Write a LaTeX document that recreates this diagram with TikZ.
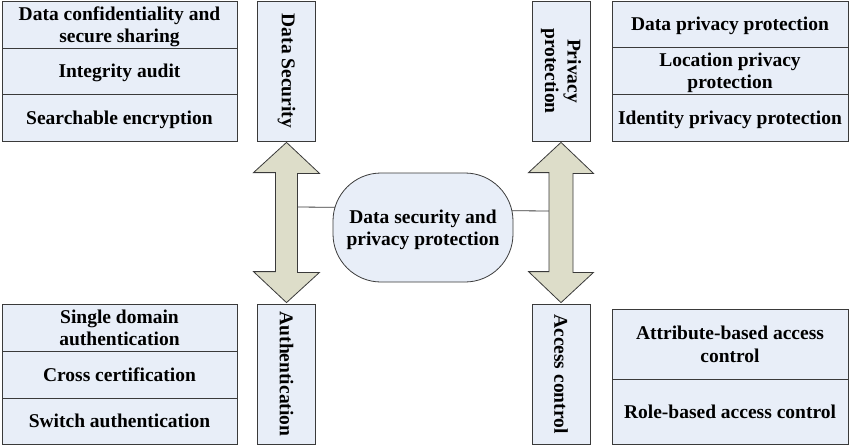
\documentclass[tikz,border=0pt]{standalone}
\usepackage{fontspec}
\setmainfont{Liberation Serif}
\usetikzlibrary{calc}
\definecolor{boxfill}{HTML}{E8EEF8}
\definecolor{arrfill}{HTML}{DDDDC9}
\definecolor{edgec}{HTML}{3A3A3A}
\begin{document}
\begin{tikzpicture}[x=1pt,y=-1pt,
  txt/.style={font=\fontsize{19.5}{22.5}\selectfont\bfseries, align=center, text=black},
  cell/.style={txt, text depth=0pt, draw=edgec, fill=boxfill, line width=0.8pt, minimum width=235pt, inner sep=0pt},
  vbox/.style={txt, draw=edgec, fill=boxfill, line width=0.8pt, minimum width=140pt, minimum height=58pt, inner sep=0pt, rotate=-90},
  dblarrow/.style={draw=edgec, fill=arrfill, line width=0.8pt, line join=miter},
  link/.style={draw=edgec, line width=0.8pt},
  core/.style={txt, text depth=0pt, draw=edgec, fill=boxfill, line width=0.8pt, minimum width=180pt, minimum height=109pt, rounded corners=48pt, inner sep=0pt}]
\useasboundingbox (0,0) rectangle (850,445);

% top-left group
\node[cell, minimum height=47pt] (a1) at (119.5,24.5) {Data confidentiality and\\secure sharing};
\node[cell, minimum height=46pt] (a2) at (119.5,71) {Integrity audit};
\node[cell, minimum height=47pt] (a3) at (119.5,117.5) {Searchable encryption};
\node[vbox] (ds) at (286.5,71) {Data Security};

% top-right group
\node[vbox] (pp) at (561,71) {Privacy\\protection};
\node[cell, minimum width=236pt, minimum height=46pt] (b1) at (730,24) {Data privacy protection};
\node[cell, minimum width=236pt, minimum height=47pt] (b2) at (730,70.5) {Location privacy\\protection};
\node[cell, minimum width=236pt, minimum height=47pt] (b3) at (730,117.5) {Identity privacy protection};

% bottom-left group
\node[cell, minimum height=47pt] (c1) at (119.5,327.5) {Single domain\\authentication};
\node[cell, minimum height=47pt] (c2) at (119.5,374.5) {Cross certification};
\node[cell, minimum height=46pt] (c3) at (119.5,421) {Switch authentication};
\node[vbox] (au) at (286.5,374) {Authentication};

% bottom-right group
\node[vbox] (ac) at (561,374) {Access control};
\node[cell, minimum width=236pt, minimum height=70pt] (d1) at (730,344) {Attribute-based access\\control};
\node[cell, minimum width=236pt, minimum height=65pt] (d2) at (730,411.5) {Role-based access control};

% connectors from arrow shafts to the core
\coordinate (ls) at (297,207);
\coordinate (rs) at (549,211);
\draw[link] (ls) -- ($(ls)!0.5!(423,208)$) -- (423,208);
\draw[link] (rs) -- (423,210);

% double arrows
\coordinate (lt) at ($(ds.east)+(0,1)$);
\coordinate (lb) at ($(au.west)+(0,-1)$);
\draw[dblarrow] (lt) -- ++(33,31) -- ++(-22,0) -- ++(0,99) -- ++(22,0) -- (lb)
  -- ++(-33,-31) -- ++(22,0) -- ++(0,-99) -- ++(-22,0) -- cycle;
\coordinate (rt) at ($(pp.east)+(0,1)$);
\coordinate (rb) at ($(ac.west)+(0,-1)$);
\draw[dblarrow] (rt) -- ++(32.5,31) -- ++(-20.5,0) -- ++(0,99) -- ++(20.5,0) -- (rb)
  -- ++(-32.5,-31) -- ++(20.5,0) -- ++(0,-99) -- ++(-20.5,0) -- cycle;

% core
\node[core] (cc) at (423,227.5) {Data security and\\privacy protection};
\end{tikzpicture}
\end{document}
